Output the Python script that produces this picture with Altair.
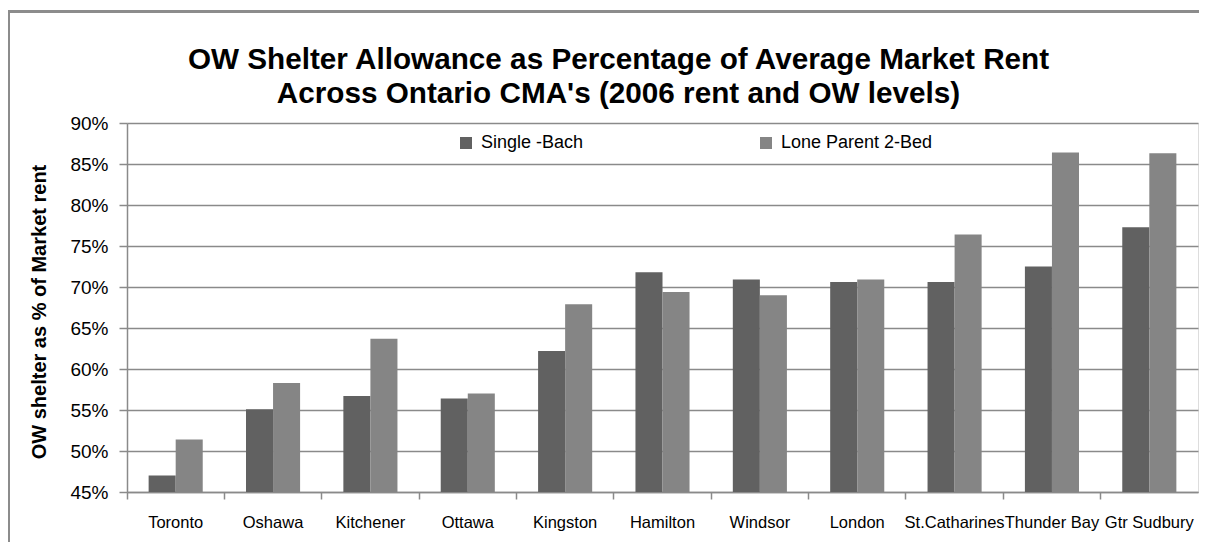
import altair as alt
import pandas as pd

cities = ["Toronto", "Oshawa", "Kitchener", "Ottawa", "Kingston", "Hamilton",
          "Windsor", "London", "St.Catharines", "Thunder Bay", "Gtr Sudbury"]
single_bach = [47.0, 55.1, 56.7, 56.4, 62.2, 71.8, 70.9, 70.6, 70.6, 72.5, 77.3]
lone_parent = [51.4, 58.3, 63.7, 57.0, 67.9, 69.4, 69.0, 70.9, 76.4, 86.4, 86.3]
series_names = ["Single -Bach", "Lone Parent 2-Bed"]
series_colors = ["#616161", "#858585"]
y_ticks = [0.45, 0.50, 0.55, 0.60, 0.65, 0.70, 0.75, 0.80, 0.85, 0.90]

rows = []
for c, a, b in zip(cities, single_bach, lone_parent):
    rows.append({"city": c, "series": series_names[0], "value": a / 100})
    rows.append({"city": c, "series": series_names[1], "value": b / 100})
df = pd.DataFrame(rows)

W, H = 1071, 369
GRID = "#8a8a8a"
FONT = "Liberation Sans"

bars = alt.Chart(df).mark_bar(clip=True).encode(
    x=alt.X("city:N", sort=cities, title=None,
            scale=alt.Scale(paddingInner=0, paddingOuter=0),
            axis=alt.Axis(bandPosition=0, labelAngle=0, labelFontSize=16.5,
                          labelFont=FONT, labelColor="#000000", labelOverlap=False,
                          labelPadding=15, tickSize=7, tickColor=GRID, tickWidth=1.5,
                          domainColor=GRID, domainWidth=1.5, grid=False, labelBound=False)),
    xOffset=alt.XOffset("series:N", sort=series_names,
                        scale=alt.Scale(paddingInner=0, paddingOuter=0.8)),
    y=alt.Y("value:Q", title="OW shelter as % of Market rent",
            scale=alt.Scale(domain=[0.45, 0.90], zero=False, nice=False),
            axis=alt.Axis(values=y_ticks, format=".0%", labelFontSize=19, labelFont=FONT,
                          labelColor="#000000", labelPadding=11, tickSize=8, tickColor=GRID,
                          tickWidth=1.5, domainColor=GRID, domainWidth=1.5,
                          gridColor=GRID, gridWidth=1.5,
                          titleFont=FONT, titleFontSize=20, titleFontWeight="bold",
                          titleColor="#000000", titleBaseline="alphabetic",
                          titleX=-82, titleY=H / 2 + 4, titleAngle=270)),
    color=alt.Color("series:N", sort=series_names,
                    scale=alt.Scale(domain=series_names, range=series_colors),
                    legend=alt.Legend(title=None, orient="none", legendX=330, legendY=11,
                                      direction="horizontal", columns=2, columnPadding=173,
                                      symbolType="square", symbolSize=144, symbolStrokeWidth=0,
                                      labelFontSize=18, labelFont=FONT, labelColor="#000000",
                                      labelOffset=6, padding=0, labelLimit=400)),
)

frame = alt.Chart(df).mark_rect(fill=None, stroke="#8c8c8c", strokeWidth=1.5).encode(
    x=alt.value(-118.5), x2=alt.value(W + 60),
    y=alt.value(-111.5), y2=alt.value(H + 80),
)

chart = alt.layer(frame, bars).properties(
    width=W, height=H,
    autosize=alt.AutoSizeParams(type="none"),
    padding={"left": 119, "top": 115, "right": 1, "bottom": 50},
    title=alt.TitleParams(
        text=["OW Shelter Allowance as Percentage of Average Market Rent",
              "Across Ontario CMA's (2006 rent and OW levels)"],
        font=FONT, fontSize=29.7, fontWeight="bold", color="#000000",
        anchor="middle", frame="group", dx=-44, offset=0, dy=121.5,
        baseline="alphabetic", lineHeight=34, limit=2000),
).configure_view(stroke=None).configure(background="#ffffff")

chart.save("out.html", embed_options={"renderer": "svg", "actions": False})
